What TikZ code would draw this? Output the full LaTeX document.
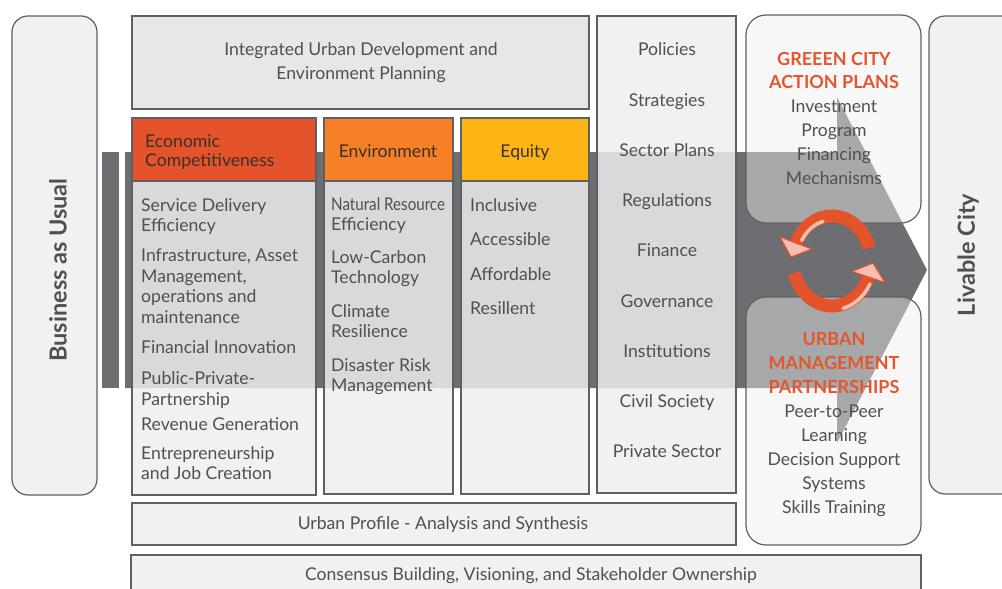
\documentclass[tikz,border=0pt]{standalone}
\usepackage{fontspec}
\usepackage{graphicx}
\setmainfont{Lato}
\definecolor{arrowgray}{HTML}{6D6E71}
\definecolor{edge}{HTML}{5F6062}
\definecolor{econ}{HTML}{E4532A}
\definecolor{envc}{HTML}{F58025}
\definecolor{eqc}{HTML}{FDB515}
\definecolor{ttl}{HTML}{E4572E}
\definecolor{txt}{HTML}{505052}
\definecolor{hdtxt}{HTML}{3A302C}
\definecolor{colfill}{HTML}{EFEFEF}
\definecolor{topfill}{HTML}{E6E7E8}
\definecolor{lightfill}{HTML}{F1F1F2}
\definecolor{pinkc}{HTML}{F7BDB0}
\tikzset{
  box/.style={draw=edge, line width=1.2pt},
  glass/.style={box, fill=colfill, fill opacity=0.83},
  glassround/.style={box, rounded corners=20pt, fill=colfill, fill opacity=0.45},
  itm/.style={font=\fontsize{17.6}{20.5}\selectfont, text=txt, align=left, anchor=base west, inner sep=0pt},
  ctr/.style={font=\fontsize{17.6}{20.5}\selectfont, text=txt, align=center, anchor=base, inner sep=0pt},
  hdr/.style={font=\fontsize{17.6}{19}\selectfont, text=hdtxt, align=left, inner sep=0pt},
  side/.style={font=\bfseries\fontsize{23.5}{26}\selectfont, text=txt, rotate=90, anchor=center, inner sep=0pt},
  cyc/.style={draw=econ, line width=13pt, line cap=butt},
  cychi/.style={draw=pinkc, line width=3.5pt, line cap=round},
  cyctip/.style={draw=econ, fill=pinkc, line width=1.1pt, line join=round}
}
\begin{document}
\begin{tikzpicture}[x=1pt, y=-1pt]
\useasboundingbox (0,0) rectangle (1002,589);
\fill[white] (0,0) rectangle (1002,589);

% Business as usual
\draw[box, rounded corners=16pt, fill=lightfill] (12,16) rectangle (97,495);
\fill[arrowgray] (102,152) rectangle (119,388);

% big arrow
\fill[arrowgray] (125,152) -- (837,152) -- (837,97) -- (927,270) -- (837,443) -- (837,388) -- (125,388) -- cycle;

% top box
\draw[box, fill=topfill] (132,16) rectangle (589,109);

% columns
\draw[glass] (132,181) rectangle (316,495);
\draw[glass] (324,181) rectangle (453,494);
\draw[glass] (461,181) rectangle (589,494);
\draw[box, fill=econ] (132,118) rectangle (316,181);
\draw[box, fill=envc] (324,118) rectangle (453,181);
\draw[box, fill=eqc] (461,118) rectangle (589,181);

% policies column
\draw[glass] (597,16) rectangle (736,493);

% right rounded boxes
\draw[glassround] (746,15) rectangle (921,223);
\draw[glassround] (746,297) rectangle (921,545);

% bottom boxes
\draw[box, fill=lightfill] (132,503) rectangle (736,545);
\draw[box, fill=lightfill] (131,555) rectangle (921,600);

% livable city
\draw[box, rounded corners=16pt, fill=lightfill] (929,16) rectangle (1020,494);

% cycle arrows
\draw[cyc] ([shift={(-17:39 and 45)}]832,261) arc[start angle=-17, end angle=-156.5, x radius=39, y radius=45];
\draw[cyc] ([shift={(164.5:39 and 45)}]832,261) arc[start angle=164.5, end angle=20.8, x radius=39, y radius=45];
\draw[cychi] ([shift={(-105:35 and 41)}]832,261) arc[start angle=-105, end angle=-150, x radius=35, y radius=41];
\draw[cychi] ([shift={(75:43 and 49)}]832,261) arc[start angle=75, end angle=28, x radius=43, y radius=49];
\coordinate (ta1) at (812,249);
\coordinate (ta2) at (780,237);
\coordinate (ta3) at (791,257);
\draw[cyctip] (ta1) -- (ta2) -- (ta3) -- cycle;
\coordinate (tb1) at (885,282.5);
\coordinate (tb2) at (852,271.5);
\coordinate (tb3) at (873,263);
\draw[cyctip] (tb1) -- (tb2) -- (tb3) -- cycle;

% side labels
\node[side] (bau) at (58,270) {Business as Usual};
\node[side] (liv) at (968,255) {Livable City};

% top box text (anchor = baseline of last line)
\node[ctr, font=\fontsize{17.6}{24}\selectfont] (iud) at (361,79) {Integrated Urban Development and\\Environment Planning};

% headers
\node[hdr, anchor=base west] (hecon) at (145,166) {Economic\\Competitiveness};
\node[hdr, anchor=base] (henv) at (388,157) {Environment};
\node[hdr, anchor=base] (heq) at (525,157) {Equity};

% economic items
\node[itm] (e1) at (141,231.5) {Service Delivery\\Efficiency};
\node[itm] (e2) at (141,323) {Infrastructure, Asset\\Management,\\operations and\\maintenance};
\node[itm] (e3) at (141,353) {Financial Innovation};
\node[itm] (e4) at (141,405) {Public-Private-\\Partnership};
\node[itm] (e5) at (141,430) {Revenue Generation};
\node[itm] (e6) at (141,479.5) {Entrepreneurship\\and Job Creation};

% environment items
\node[itm] (v1) at (331,230.5) {\scalebox{0.86}[1]{Natural Resource}\\Efficiency};
\node[itm] (v2) at (331,283.5) {Low-Carbon\\Technology};
\node[itm] (v3) at (331,337.5) {Climate\\Resilience};
\node[itm] (v4) at (331,391.5) {Disaster Risk\\Management};

% equity items
\node[itm] (q1) at (470,211) {Inclusive};
\node[itm] (q2) at (470,245) {Accessible};
\node[itm] (q3) at (470,280) {Affordable};
\node[itm] (q4) at (470,314) {Resillent};

% policies column
\node[ctr] (p1) at (667,55) {Policies};
\node[ctr] (p2) at (667,106) {Strategies};
\node[ctr] (p3) at (667,156) {Sector Plans};
\node[ctr] (p4) at (667,206) {Regulations};
\node[ctr] (p5) at (667,256) {Finance};
\node[ctr] (p6) at (667,307) {Governance};
\node[ctr] (p7) at (667,357) {Institutions};
\node[ctr] (p8) at (667,407) {Civil Society};
\node[ctr] (p9) at (667,457) {Private Sector};

% green city box
\node[ctr, font=\fontsize{17.6}{23.8}\selectfont] (gc) at (834,184) {{\color{ttl}\bfseries\fontsize{18}{23.8}\selectfont GREEEN CITY}\\{\color{ttl}\bfseries\fontsize{18}{23.8}\selectfont ACTION PLANS}\\Investment\\Program\\Financing\\Mechanisms};

% urban management box
\node[ctr, font=\fontsize{17.6}{24}\selectfont] (um) at (834,513) {{\color{ttl}\bfseries\fontsize{18}{24}\selectfont URBAN}\\{\color{ttl}\bfseries\fontsize{18}{24}\selectfont MANAGEMENT}\\{\color{ttl}\bfseries\fontsize{18}{24}\selectfont PARTNERSHIPS}\\Peer-to-Peer\\Learning\\Decision Support\\Systems\\Skills Training};

% bottom texts
\node[ctr] (up) at (443,529) {Urban Profile - Analysis and Synthesis};
\node[ctr] (cb) at (531,580) {Consensus Building, Visioning, and Stakeholder Ownership};
\end{tikzpicture}
\end{document}
